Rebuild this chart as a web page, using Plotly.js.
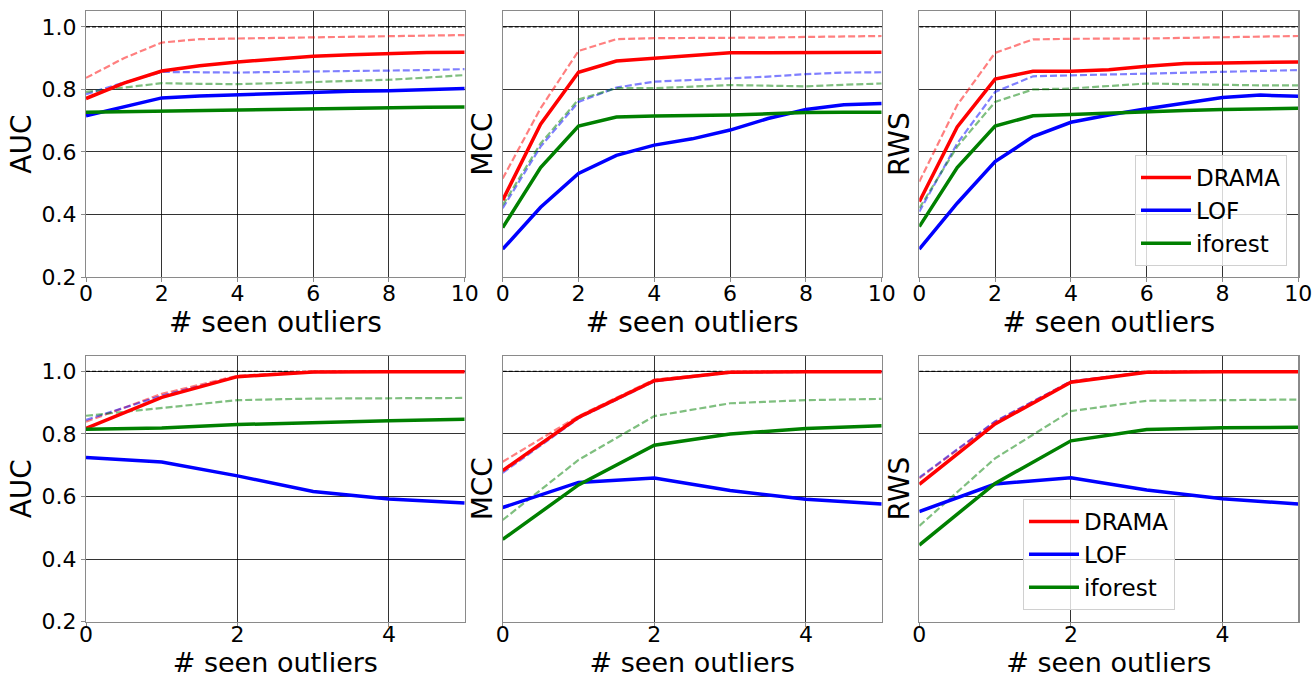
<!DOCTYPE html>
<html>
<head>
<meta charset="utf-8">
<script src="https://cdn.plot.ly/plotly-3.0.1.min.js"></script>
<style>html,body{margin:0;padding:0;background:#fff;}#chart{width:1313px;height:678px;}</style>
</head>
<body>
<div id="chart"></div>
<script>
// ---------- data ----------
const xTop = [0, 1, 2, 3, 4, 5, 6, 7, 8, 9, 10];
const xBot = [0, 1, 2, 3, 4, 5];
const xTicksTop = [0, 2, 4, 6, 8, 10];
const xTicksBot = [0, 2, 4];
const yTicks = [0.2, 0.4, 0.6, 0.8, 1.0];
const refLine = 1.0;
const methods = ["DRAMA", "LOF", "iforest"];
const metrics = ["AUC", "MCC", "RWS"];
const xLabel = "# seen outliers";

// top row (10 seen outliers)
const aucDramaTop    = [0.771, 0.820, 0.859, 0.876, 0.888, 0.897, 0.906, 0.911, 0.915, 0.918, 0.919];
const aucDramaRefTop = [0.837, 0.900, 0.950, 0.961, 0.963, 0.965, 0.967, 0.969, 0.971, 0.972, 0.974];
const aucLofTop      = [0.716, 0.745, 0.773, 0.779, 0.783, 0.787, 0.791, 0.794, 0.796, 0.800, 0.803];
const aucLofRefTop   = [0.785, 0.822, 0.856, 0.855, 0.854, 0.856, 0.857, 0.858, 0.859, 0.862, 0.865];
const aucIfTop       = [0.727, 0.729, 0.731, 0.732, 0.734, 0.737, 0.739, 0.740, 0.741, 0.743, 0.744];
const aucIfRefTop    = [0.792, 0.806, 0.820, 0.818, 0.817, 0.820, 0.824, 0.827, 0.831, 0.838, 0.846];

const mccDramaTop    = [0.446, 0.689, 0.855, 0.891, 0.900, 0.909, 0.917, 0.917, 0.917, 0.918, 0.919];
const mccDramaRefTop = [0.515, 0.740, 0.923, 0.961, 0.964, 0.964, 0.965, 0.966, 0.968, 0.970, 0.971];
const mccLofTop      = [0.289, 0.423, 0.531, 0.589, 0.622, 0.642, 0.670, 0.707, 0.736, 0.751, 0.755];
const mccLofRefTop   = [0.420, 0.617, 0.760, 0.806, 0.825, 0.830, 0.834, 0.841, 0.849, 0.854, 0.855];
const mccIfTop       = [0.358, 0.550, 0.683, 0.712, 0.715, 0.716, 0.718, 0.722, 0.726, 0.727, 0.727];
const mccIfRefTop    = [0.430, 0.627, 0.768, 0.804, 0.804, 0.809, 0.814, 0.812, 0.810, 0.815, 0.819];

const rwsDramaTop    = [0.441, 0.680, 0.833, 0.858, 0.858, 0.863, 0.874, 0.883, 0.885, 0.886, 0.888];
const rwsDramaRefTop = [0.505, 0.750, 0.917, 0.960, 0.962, 0.962, 0.963, 0.965, 0.967, 0.969, 0.971];
const rwsLofTop      = [0.289, 0.436, 0.569, 0.649, 0.695, 0.718, 0.738, 0.757, 0.774, 0.782, 0.778];
const rwsLofRefTop   = [0.409, 0.627, 0.792, 0.842, 0.845, 0.848, 0.851, 0.853, 0.856, 0.860, 0.862];
const rwsIfTop       = [0.361, 0.550, 0.683, 0.716, 0.720, 0.725, 0.730, 0.733, 0.736, 0.738, 0.740];
const rwsIfRefTop    = [0.420, 0.617, 0.760, 0.800, 0.803, 0.811, 0.819, 0.817, 0.814, 0.813, 0.813];

// bottom row (5 seen outliers)
const aucDramaBot    = [0.818, 0.917, 0.983, 0.998, 0.999, 0.999];
const aucDramaRefBot = [0.839, 0.928, 0.986, 0.999, 1.000, 1.000];
const aucLofBot      = [0.725, 0.710, 0.666, 0.616, 0.592, 0.579];
const aucLofRefBot   = [0.845, 0.922, 0.984, 0.997, 0.999, 0.999];
const aucIfBot       = [0.815, 0.819, 0.830, 0.837, 0.842, 0.847];
const aucIfRefBot    = [0.858, 0.882, 0.908, 0.913, 0.915, 0.915];

const mccDramaBot    = [0.683, 0.853, 0.970, 0.997, 0.999, 0.999];
const mccDramaRefBot = [0.711, 0.857, 0.974, 0.998, 1.000, 1.000];
const mccLofBot      = [0.565, 0.645, 0.659, 0.619, 0.591, 0.576];
const mccLofRefBot   = [0.676, 0.850, 0.968, 0.996, 0.998, 0.998];
const mccIfBot       = [0.463, 0.637, 0.764, 0.800, 0.817, 0.826];
const mccIfRefBot    = [0.525, 0.717, 0.857, 0.898, 0.908, 0.912];

const rwsDramaBot    = [0.639, 0.832, 0.965, 0.997, 0.999, 0.999];
const rwsDramaRefBot = [0.658, 0.839, 0.968, 0.998, 1.000, 1.000];
const rwsLofBot      = [0.552, 0.640, 0.660, 0.621, 0.593, 0.576];
const rwsLofRefBot   = [0.661, 0.840, 0.968, 0.997, 0.999, 0.999];
const rwsIfBot       = [0.445, 0.642, 0.778, 0.814, 0.820, 0.821];
const rwsIfRefBot    = [0.506, 0.722, 0.873, 0.906, 0.908, 0.910];

// ---------- styling ----------
const FONT = "DejaVu Sans, Liberation Sans, sans-serif";
const solidColors = ["#ff0000", "#0000ff", "#008000"];
const dashColors = ["rgba(255,0,0,0.5)", "rgba(0,0,255,0.5)", "rgba(0,128,0,0.5)"];

const panels = [
  {n: 1, x: xTop, metric: 0, solid: [aucDramaTop, aucLofTop, aucIfTop], dash: [aucDramaRefTop, aucLofRefTop, aucIfRefTop]},
  {n: 2, x: xTop, metric: 1, solid: [mccDramaTop, mccLofTop, mccIfTop], dash: [mccDramaRefTop, mccLofRefTop, mccIfRefTop]},
  {n: 3, x: xTop, metric: 2, solid: [rwsDramaTop, rwsLofTop, rwsIfTop], dash: [rwsDramaRefTop, rwsLofRefTop, rwsIfRefTop], legend: "legend"},
  {n: 4, x: xBot, metric: 0, solid: [aucDramaBot, aucLofBot, aucIfBot], dash: [aucDramaRefBot, aucLofRefBot, aucIfRefBot]},
  {n: 5, x: xBot, metric: 1, solid: [mccDramaBot, mccLofBot, mccIfBot], dash: [mccDramaRefBot, mccLofRefBot, mccIfRefBot]},
  {n: 6, x: xBot, metric: 2, solid: [rwsDramaBot, rwsLofBot, rwsIfBot], dash: [rwsDramaRefBot, rwsLofRefBot, rwsIfRefBot], legend: "legend2"},
];

const W = 1313, H = 678;
const colPx = [[86, 464.7], [502.7, 881.7], [919.3, 1298.3]];
const rowPx = [[11.3, 277], [355.7, 621.7]];

const traces = [];
const layout = {
  width: W, height: H,
  margin: {l: 0, r: 0, t: 0, b: 0},
  paper_bgcolor: "#fff", plot_bgcolor: "#fff",
  font: {family: FONT, color: "#000", size: 22},
  showlegend: true,
};

panels.forEach(p => {
  const sfx = p.n === 1 ? "" : String(p.n);
  const xa = "x" + sfx, ya = "y" + sfx;
  const col = (p.n - 1) % 3, row = Math.floor((p.n - 1) / 3);
  const xr = [p.x[0], p.x[p.x.length - 1]];
  // reference line at 1.0
  traces.push({x: xr, y: [refLine, refLine], xaxis: xa, yaxis: ya, mode: "lines",
    line: {color: "rgba(0,0,0,0.85)", width: 1.3, dash: "4px,2px"}, showlegend: false, hoverinfo: "skip"});
  for (let i = 0; i < 3; i++) {
    traces.push({x: p.x, y: p.dash[i], xaxis: xa, yaxis: ya, mode: "lines", name: methods[i] + " (ref)",
      line: {color: dashColors[i], width: 2.2, dash: "7px,3px"}, showlegend: false});
  }
  for (let i = 0; i < 3; i++) {
    const t = {x: p.x, y: p.solid[i], xaxis: xa, yaxis: ya, mode: "lines", name: methods[i],
      line: {color: solidColors[i], width: 3.5}, showlegend: !!p.legend};
    if (p.legend) t.legend = p.legend;
    traces.push(t);
  }
  const axCommon = {
    showline: true, mirror: true, linecolor: "#8a8a8a", linewidth: 1.2,
    showgrid: true, gridcolor: "rgba(0,0,0,0.8)", gridwidth: 1,
    zeroline: false, ticks: "outside", ticklen: 4, tickcolor: "#8a8a8a",
    tickfont: {family: FONT, size: 22, color: "#000"},
  };
  layout["xaxis" + sfx] = Object.assign({}, axCommon, {
    domain: [colPx[col][0] / W, colPx[col][1] / W],
    anchor: ya, range: xr, tickmode: "array",
    tickvals: row === 0 ? xTicksTop : xTicksBot,
    ticktext: (row === 0 ? xTicksTop : xTicksBot).map(String),
    ticklabelstandoff: row === 0 ? -8 : -11,
    title: {text: xLabel, font: {family: FONT, size: row === 0 ? 28 : 27, color: "#000"}, standoff: row === 0 ? 6 : 0},
  });
  layout["yaxis" + sfx] = Object.assign({}, axCommon, {
    domain: [1 - rowPx[row][1] / H, 1 - rowPx[row][0] / H],
    anchor: xa, range: [0.2, 1.05], tickmode: "array",
    tickvals: yTicks, ticktext: yTicks.map(v => v.toFixed(1)),
    showticklabels: col === 0,
    ticks: col === 0 ? "outside" : "",
    title: {text: metrics[p.metric], font: {family: FONT, size: 28, color: "#000"}, standoff: col === 0 ? 1 : 0},
  });
});

const legendCommon = {
  bgcolor: "rgba(255,255,255,0.8)", bordercolor: "#d0d0d0", borderwidth: 1,
  font: {family: FONT, size: 23, color: "#000"}, traceorder: "normal",
  itemwidth: 50,
};
layout.legend = Object.assign({}, legendCommon, {x: 1287 / W, y: 1 - 266 / H, xanchor: "right", yanchor: "bottom"});
layout.legend2 = Object.assign({}, legendCommon, {x: 1023 / W, y: 1 - 499 / H, xanchor: "left", yanchor: "top"});

Plotly.newPlot("chart", traces, layout, {displayModeBar: false, staticPlot: true});
</script>
</body>
</html>
